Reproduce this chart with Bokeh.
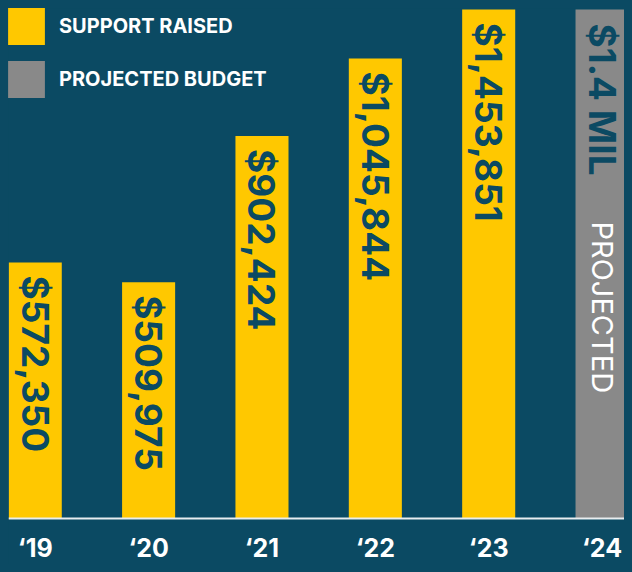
import math
from bokeh.plotting import figure
from bokeh.models import (ColumnDataSource, Legend, LegendItem, Range1d, Span,
                          GlobalInlineStyleSheet)
from bokeh.core.properties import value
from bokeh.embed import file_html
from bokeh.resources import INLINE

# ---- data -------------------------------------------------------------
years = ["\u201819", "\u201820", "\u201821", "\u201822", "\u201823", "\u201824"]
support_raised = [572350, 509975, 902424, 1045844, 1453851]
support_labels = ["$572,350", "$509,975", "$902,424", "$1,045,844", "$1,453,851"]
projected_label = ["$1.4 MIL"]
projected_note = ["PROJECTED"]
# bar heights as drawn in the infographic (not to scale with the labels), picture units
drawn_support = [261, 241, 390, 469, 519]
drawn_projected = [519]

# ---- styles -----------------------------------------------------------
BG = "#0b4a63"
YELLOW = "#ffc800"
GREY = "#898989"
FONT = "Inter"

support_x = list(range(len(support_raised)))
projected_x = [len(support_raised)]
year_x = list(range(len(years)))

src_s = ColumnDataSource(dict(x=support_x, top=drawn_support, label=support_labels,
                              value=support_raised))
src_p = ColumnDataSource(dict(x=projected_x, top=drawn_projected, label=projected_label,
                              note=projected_note))
src_y = ColumnDataSource(dict(x=year_x, y=[0] * len(years), text=years))

p = figure(width=616, height=556, output_backend="svg", toolbar_location=None,
           x_axis_location=None, y_axis_location=None,
           x_range=Range1d(-0.236, 5.198), y_range=Range1d(-46.9, 520),
           min_border_left=0, min_border_right=0, min_border_top=0, min_border_bottom=0,
           background_fill_color=BG, border_fill_color=BG, outline_line_color=None)
p.grid.visible = False

BW = 0.468
r1 = p.vbar(x="x", top="top", bottom=0, width=BW, source=src_s,
            fill_color=YELLOW, line_color=None)
r2 = p.vbar(x="x", top="top", bottom=0, width=BW, source=src_p,
            fill_color=GREY, line_color=None)

p.add_layout(Span(location=0, dimension="width", line_color="#e8edf0", line_width=2))

p.text(x="x", y="top", text="label", source=src_s, angle=-math.pi / 2,
       text_align="left", text_baseline="middle", y_offset=13,
       text_font=value(FONT), text_font_style="bold", text_font_size="37px",
       text_color=BG)
p.text(x="x", y="top", text="label", source=src_p, angle=-math.pi / 2,
       text_align="left", text_baseline="middle", y_offset=14,
       text_font=value(FONT), text_font_style="bold", text_font_size="37px",
       text_color=BG)
p.text(x="x", y="top", text="note", source=src_p, angle=-math.pi / 2,
       text_align="left", text_baseline="middle", y_offset=212,
       text_font=value(FONT), text_font_style="normal", text_font_size="29px",
       text_color="white")

# year tick labels
p.text(x="x", y="y", text="text", source=src_y, text_align="center",
       text_baseline="top", y_offset=14,
       text_font=value(FONT), text_font_style="bold", text_font_size="25px",
       text_color="white")

legend = Legend(items=[LegendItem(label="SUPPORT RAISED", renderers=[r1]),
                       LegendItem(label="PROJECTED BUDGET", renderers=[r2])],
                location="top_left", margin=-5, padding=0, spacing=7,
                glyph_width=46, glyph_height=46, label_height=46, label_standoff=10,
                label_text_font=FONT, label_text_font_style="bold",
                label_text_font_size="20px", label_text_color="white",
                background_fill_alpha=0, border_line_alpha=0)
p.add_layout(legend)

p.stylesheets = [GlobalInlineStyleSheet(
    css="html, body { background-color: %s; } "
        "body { margin: 0 !important; padding: 8px !important; "
        "box-sizing: border-box !important; height: auto !important; }" % BG)]

open("out.html", "w").write(file_html(p, INLINE))
